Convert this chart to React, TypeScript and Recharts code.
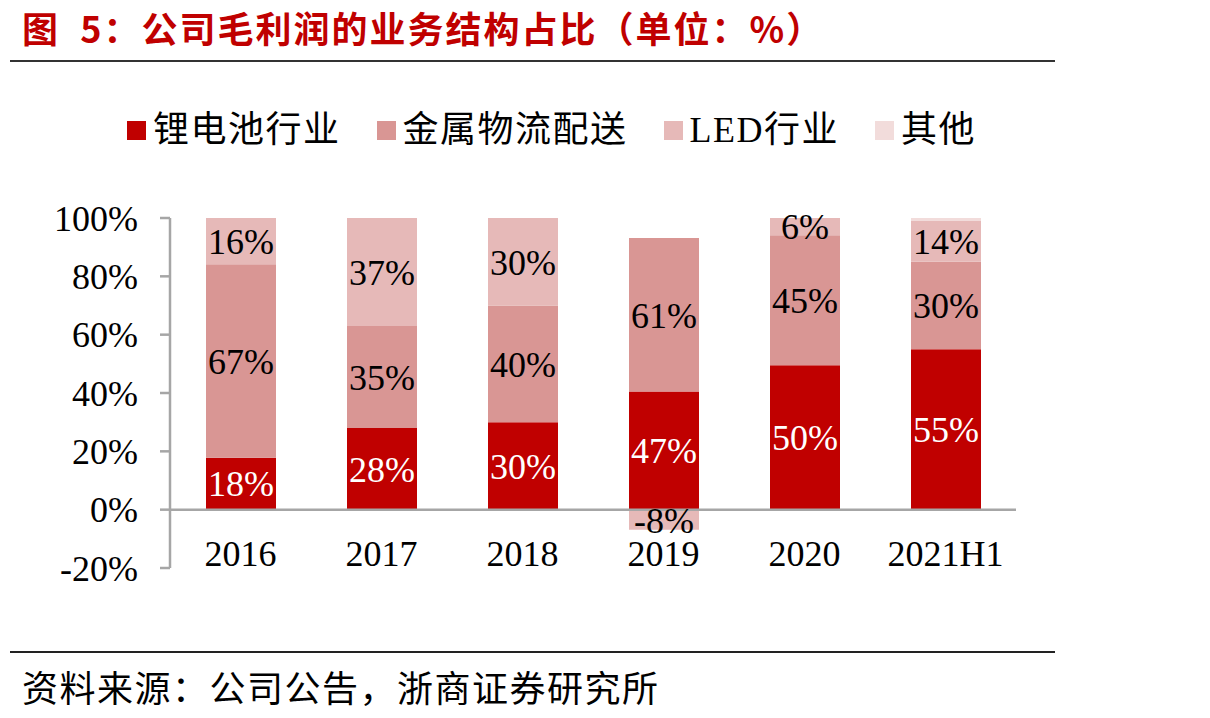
import React from 'react';
import { BarChart, Bar, XAxis, YAxis, ReferenceLine, LabelList } from 'recharts';

const years = ['2016', '2017', '2018', '2019', '2020', '2021H1'];
const lithium = [18, 28, 30, 47, 50, 55];
const metalLogistics = [67, 35, 40, 61, 45, 30];
const led = [16, 37, 30, -8, 6, 14];
const others = [0, 0, 0, 0, 0, 1];
const yTicks = [-20, 0, 20, 40, 60, 80, 100];

const serif = '"Liberation Serif", "Times New Roman", "Noto Sans CJK SC", serif';
const cjk = '"Liberation Serif", "Noto Sans CJK SC", sans-serif';
const axisGray = '#A6A6A6';

const series = [
  { key: 'lithium', name: '锂电池行业', color: '#C00000', labelColor: '#FFFFFF', values: lithium, labeled: true },
  { key: 'metal', name: '金属物流配送', color: '#D99694', labelColor: '#000000', values: metalLogistics, labeled: true },
  { key: 'led', name: 'LED行业', color: '#E6B9B8', labelColor: '#000000', values: led, labeled: true },
  { key: 'other', name: '其他', color: '#F2DCDB', labelColor: '#000000', values: others, labeled: false },
];

// segments are drawn as shares of the year's total absolute profit (100% stacked),
// labels keep the reported percentages
const data = years.map((year, i) => {
  const total = series.reduce((s, ser) => s + Math.abs(ser.values[i]), 0);
  const row: Record<string, string | number> = { year };
  series.forEach(ser => {
    row[ser.key] = (ser.values[i] / total) * 100;
    row[ser.key + 'Raw'] = ser.values[i];
  });
  return row;
});

const YearTick = (props: any) => {
  const { x, y, payload } = props;
  return (
    <text x={x} y={y - 2} textAnchor="middle" fontSize={36} fontFamily={serif} fill="#000">
      {payload.value}
    </text>
  );
};

const App: React.FC = () => {
  return (
    <div style={{ position: 'absolute', left: 0, top: 0, width: 1210, height: 718, background: '#fff' }}>
      <div
        style={{
          position: 'absolute',
          left: 22,
          top: 6,
          height: 42,
          lineHeight: '42px',
          fontSize: 36,
          fontWeight: 'bold',
          letterSpacing: 2,
          color: '#C00000',
          fontFamily: '"Noto Sans CJK SC", sans-serif',
          whiteSpace: 'pre',
        }}
      >
        {'图  5：公司毛利润的业务结构占比（单位：%）'}
      </div>
      <div style={{ position: 'absolute', left: 10, top: 60, width: 1045, height: 2, background: '#333' }} />

      <div style={{ position: 'absolute', left: 127, top: 110, display: 'flex', alignItems: 'center', height: 40 }}>
        {series.map(s => (
          <div key={s.key} style={{ display: 'flex', alignItems: 'center', marginRight: 36 }}>
            <div style={{ width: 19, height: 19, background: s.color, marginRight: 7 }} />
            <span
              style={{
                fontSize: 36,
                fontFamily: cjk,
                lineHeight: '40px',
                letterSpacing: 1.5,
                color: '#000',
                whiteSpace: 'nowrap',
              }}
            >
              {s.name}
            </span>
          </div>
        ))}
      </div>

      <div style={{ position: 'absolute', left: 0, top: 0 }}>
        <BarChart
          width={1060}
          height={640}
          data={data}
          stackOffset="sign"
          barSize={70}
          margin={{ top: 218, right: 44, left: 0, bottom: 12 }}
        >
          <XAxis
            dataKey="year"
            axisLine={false}
            tickLine={false}
            tickSize={0}
            tickMargin={0}
            height={60}
            interval={0}
            tick={<YearTick />}
          />
          <YAxis
            width={170}
            domain={[-20, 100]}
            ticks={yTicks}
            allowDataOverflow
            axisLine={{ stroke: axisGray, strokeWidth: 2.5 }}
            tickLine={{ stroke: axisGray, strokeWidth: 2.5 }}
            tickSize={10}
            tickMargin={22}
            tick={{ fontSize: 36, fontFamily: serif, fill: '#000' }}
            tickFormatter={(v: number) => `${v}%`}
          />
          {series.map(s => (
            <Bar key={s.key} dataKey={s.key} name={s.name} stackId="profit" fill={s.color} isAnimationActive={false}>
              {s.labeled && (
                <LabelList
                  dataKey={s.key + 'Raw'}
                  position="center"
                  fill={s.labelColor}
                  fontSize={36}
                  fontFamily={serif}
                  formatter={(v: any) => (v ? `${v}%` : '')}
                />
              )}
            </Bar>
          ))}
          <ReferenceLine y={0} stroke={axisGray} strokeWidth={2.5} />
        </BarChart>
      </div>

      <div style={{ position: 'absolute', left: 10, top: 651, width: 1045, height: 2, background: '#222' }} />
      <div
        style={{
          position: 'absolute',
          left: 22,
          top: 664,
          height: 44,
          lineHeight: '44px',
          fontSize: 36,
          letterSpacing: 1.5,
          color: '#000',
          fontFamily: '"Noto Sans CJK SC", sans-serif',
          whiteSpace: 'nowrap',
        }}
      >
        资料来源：公司公告，浙商证券研究所
      </div>
    </div>
  );
};

export default App;
